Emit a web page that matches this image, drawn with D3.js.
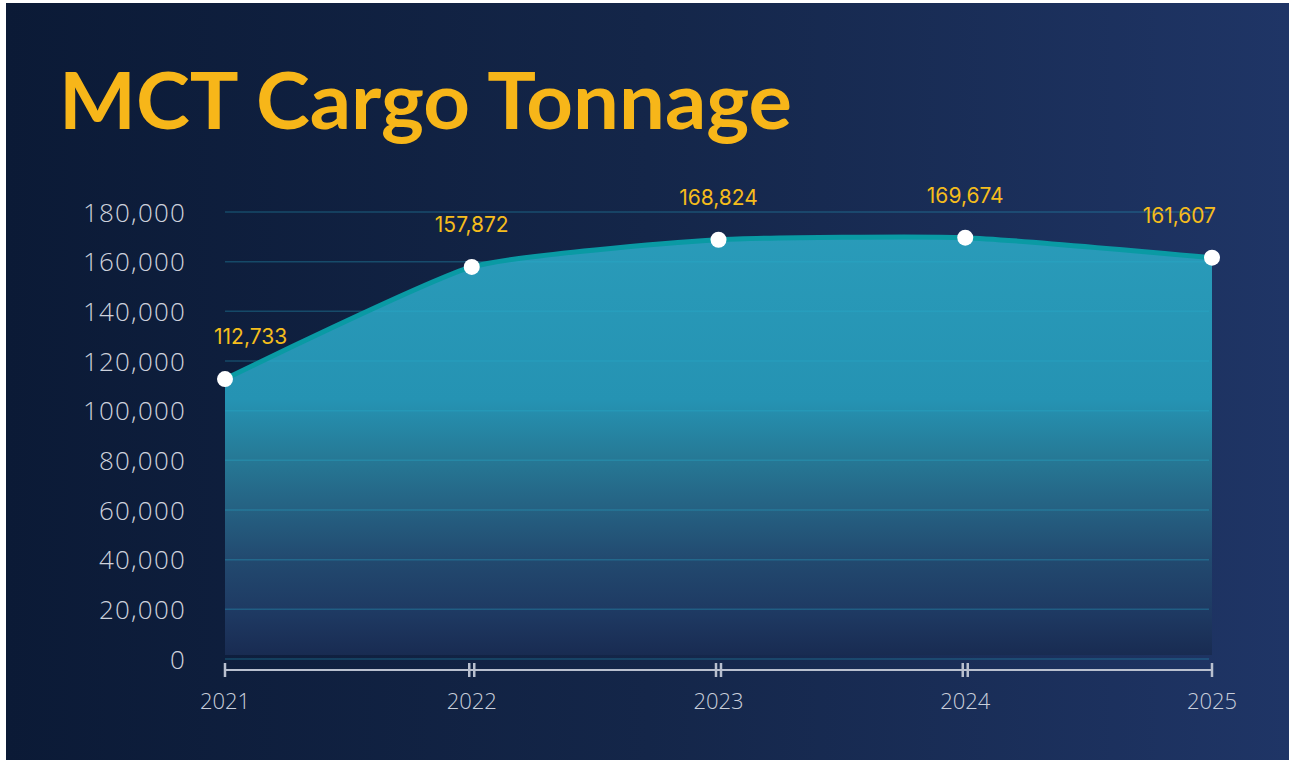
<!DOCTYPE html>
<html>
<head>
<meta charset="utf-8">
<script src="https://cdn.jsdelivr.net/npm/d3@7"></script>
<style>
  html, body { margin: 0; padding: 0; background: #fff; }
  svg { display: block; }
</style>
</head>
<body>
<svg id="viz"></svg>
<script>
// data
var years = ["2021", "2022", "2023", "2024", "2025"]
var tonnage = [112733, 157872, 168824, 169674, 161607]
var yTicks = [0, 20000, 40000, 60000, 80000, 100000, 120000, 140000, 160000, 180000]
var title = "MCT Cargo Tonnage"

var width = 1289,
    height = 762

var svg = d3.select("#viz")
    .attr("width", width)
    .attr("height", height)

var defs = svg.append("defs")

var bg = defs.append("linearGradient").attr("id", "bg")
    .attr("x1", 0).attr("y1", 0).attr("x2", 1).attr("y2", 0)
bg.append("stop").attr("offset", "0%").attr("stop-color", "#0b1a36")
bg.append("stop").attr("offset", "50%").attr("stop-color", "#142649")
bg.append("stop").attr("offset", "100%").attr("stop-color", "#1f3566")

// panel
svg.append("rect")
    .attr("x", 6).attr("y", 3)
    .attr("width", width - 6).attr("height", 757)
    .attr("fill", "url(#bg)")

var x = d3.scalePoint()
    .domain(years)
    .range([225, 1212])
var y = d3.scaleLinear()
    .domain([0, 180000])
    .range([659, 212])

var areaFill = defs.append("linearGradient").attr("id", "areaFill")
    .attr("gradientUnits", "userSpaceOnUse")
    .attr("x1", 0).attr("y1", y(180000)).attr("x2", 0).attr("y2", y(0))
var fillStops = [
    [0, "#2a9cba"], [0.42, "#2593b3"], [0.55, "#267996"], [0.66, "#256283"],
    [0.78, "#22496f"], [0.9, "#1e3962"], [1, "#182a50"]
]
fillStops.forEach(s => areaFill.append("stop").attr("offset", s[0]).attr("stop-color", s[1]))

// title
svg.append("text")
    .attr("x", 59).attr("y", 129)
    .attr("font-family", "Lato, 'Noto Sans', sans-serif")
    .attr("font-weight", 700)
    .attr("font-size", 78)
    .attr("fill", "#f7b619")
    .attr("textLength", 733)
    .attr("lengthAdjust", "spacingAndGlyphs")
    .text(title)

var data = years.map((d, i) => ({ year: d, val: tonnage[i] }))
var curve = d3.curveCardinal.tension(0.5)

var area = d3.area()
    .x(d => x(d.year))
    .y0(y(0) - 4)
    .y1(d => y(d.val))
    .curve(curve)
var line = d3.line()
    .x(d => x(d.year))
    .y(d => y(d.val))
    .curve(curve)

svg.append("path")
    .datum(data)
    .attr("d", area)
    .attr("fill", "url(#areaFill)")

// grid lines over the area
svg.append("g").attr("class", "grid")
    .selectAll("line")
    .data(yTicks)
    .join("line")
    .attr("x1", 225).attr("x2", 1209)
    .attr("y1", d => y(d)).attr("y2", d => y(d))
    .attr("stroke", "rgba(40,175,205,0.3)")
    .attr("stroke-width", 1.5)

svg.append("path")
    .datum(data)
    .attr("d", line)
    .attr("fill", "none")
    .attr("stroke", "#0a9aa4")
    .attr("stroke-width", 5)

// y axis labels
var yAxis = g => g
    .attr("transform", "translate(186,0)")
    .call(d3.axisLeft(y).tickValues(yTicks).tickSize(0).tickPadding(0).tickFormat(d3.format(",")))
    .call(g => g.select(".domain").remove())
svg.append("g").attr("class", "yaxis").call(yAxis)
    .selectAll("text")
    .attr("font-family", "'Open Sans', sans-serif")
    .attr("font-weight", 300)
    .attr("font-size", 26)
    .attr("letter-spacing", 1.2)
    .attr("fill", "#cdd2dc")
    .attr("dy", "0.35em")

// x axis
var axisY = 670
var xg = svg.append("g").attr("class", "xaxis")
xg.append("line")
    .attr("x1", x.range()[0]).attr("x2", x.range()[1])
    .attr("y1", axisY).attr("y2", axisY)
    .attr("stroke", "#b9c0cf").attr("stroke-width", 2)
var tickMarks = []
years.forEach((d, i) => {
    if (i == 0 || i == years.length - 1) tickMarks.push(x(d))
    else { tickMarks.push(x(d) - 2.5); tickMarks.push(x(d) + 2.5) }
})
xg.selectAll(".tick-mark")
    .data(tickMarks)
    .join("line")
    .attr("class", "tick-mark")
    .attr("x1", d => d).attr("x2", d => d)
    .attr("y1", axisY - 7).attr("y2", axisY + 7)
    .attr("stroke", "#b9c0cf").attr("stroke-width", 2.5)
xg.selectAll(".year")
    .data(years)
    .join("text")
    .attr("class", "year")
    .attr("x", d => x(d))
    .attr("y", 709)
    .attr("text-anchor", "middle")
    .attr("font-family", "'Open Sans', sans-serif")
    .attr("font-weight", 300)
    .attr("font-size", 22)
    .attr("fill", "#c9cfdb")
    .text(d => d)

// points
svg.append("g").attr("class", "dots")
    .selectAll("circle")
    .data(data)
    .join("circle")
    .attr("cx", d => x(d.year))
    .attr("cy", d => y(d.val))
    .attr("r", 8)
    .attr("fill", "#ffffff")

// value labels, kept inside the plot
var fmt = d3.format(",")
var labels = svg.append("g").attr("class", "labels")
    .selectAll("text")
    .data(data)
    .join("text")
    .attr("y", d => y(d.val) - 35)
    .attr("font-family", "Inter, 'Open Sans', sans-serif")
    .attr("font-weight", 400)
    .attr("font-size", 21)
    .attr("fill", "#f5bd1c")
    .attr("text-anchor", "middle")
    .text(d => fmt(d.val))
labels.each(function (d) {
    var w = this.getComputedTextLength()
    var cx = Math.max(214 + w / 2, Math.min(1216 - w / 2, x(d.year)))
    d3.select(this).attr("x", cx)
})
</script>
</body>
</html>
